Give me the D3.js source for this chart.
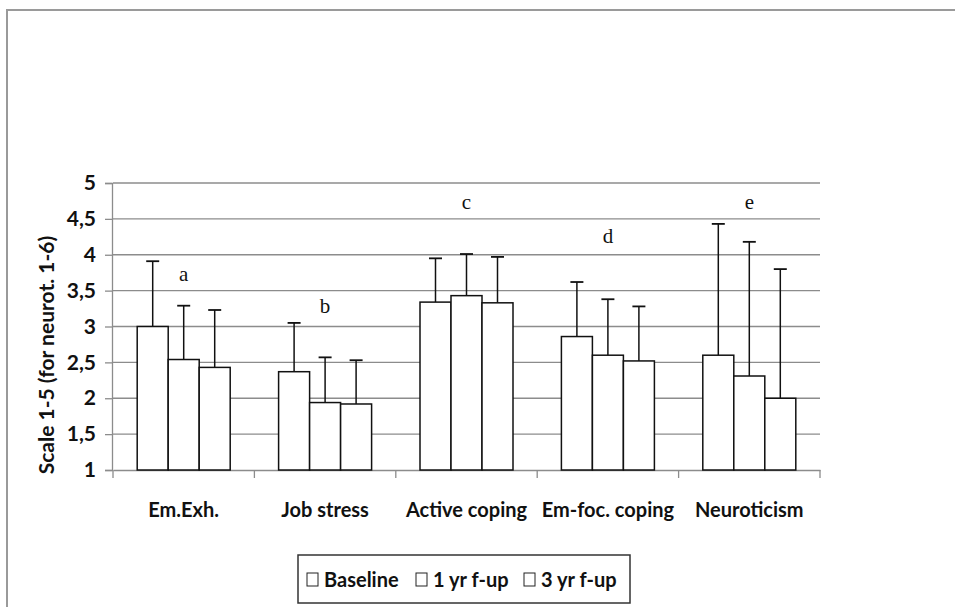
<!DOCTYPE html>
<html>
<head>
<meta charset="utf-8">
<script src="https://cdnjs.cloudflare.com/ajax/libs/d3/7.8.5/d3.min.js"></script>
<style>
  html, body { margin: 0; padding: 0; background: #fff; }
  svg { display: block; }
  .tick-label, .cat-label, .legend-text, .y-title {
    font-family: Lato, "Open Sans", sans-serif;
    font-weight: bold;
    fill: #111;
  }
  .letter { font-family: "Liberation Serif", "DejaVu Serif", serif; fill: #111; }
</style>
</head>
<body>
<svg id="chart" width="955" height="607"></svg>
<script>
// Chart data.
var categories = ['Em.Exh.', 'Job stress', 'Active coping', 'Em-foc. coping', 'Neuroticism'];
var seriesNames = ['Baseline', '1 yr f-up', '3 yr f-up'];
// mean per series, one entry per category
var baseline = [3.00, 2.37, 3.34, 2.86, 2.60];
var oneYear  = [2.54, 1.94, 3.43, 2.60, 2.31];
var threeYr  = [2.43, 1.92, 3.33, 2.52, 2.00];
// top of the error bar (mean + SD)
var baselineHi = [3.91, 3.05, 3.95, 3.62, 4.43];
var oneYearHi  = [3.29, 2.57, 4.01, 3.38, 4.18];
var threeYrHi  = [3.23, 2.53, 3.97, 3.28, 3.80];
// significance letters and the value they sit at
var letters = ['a', 'b', 'c', 'd', 'e'];
var letterAt = [3.72, 3.27, 4.72, 4.25, 4.72];
var yTicks = [1, 1.5, 2, 2.5, 3, 3.5, 4, 4.5, 5];

var means = [baseline, oneYear, threeYr];
var highs = [baselineHi, oneYearHi, threeYrHi];

var svg = d3.select('#chart');

// outer frame (only top and left edges fall inside the picture)
svg.append('path')
  .attr('d', 'M7,607 V10 H955')
  .attr('fill', 'none')
  .attr('stroke', '#9a9a9a')
  .attr('stroke-width', 2);

var x = d3.scaleBand().domain(categories).range([113, 820]);
var y = d3.scaleLinear().domain([1, 5]).range([470, 183]);
var inner = d3.scaleBand().domain(seriesNames).range([0, 93]);
var groupOffset = (x.bandwidth() - 93) / 2;

// gridlines
svg.append('g').selectAll('line')
  .data(yTicks.slice(1))
  .enter().append('line')
  .attr('x1', 113).attr('x2', 820)
  .attr('y1', function(d) { return y(d); })
  .attr('y2', function(d) { return y(d); })
  .attr('stroke', '#8c8c8c')
  .attr('stroke-width', 1.3);

// y axis
var yAxis = svg.append('g')
  .attr('transform', 'translate(112,0)')
  .call(d3.axisLeft(y).tickValues(yTicks).tickSize(7).tickPadding(9)
    .tickFormat(function(d) { return String(d).replace('.', ','); }));
yAxis.select('.domain').attr('stroke', '#8c8c8c').attr('stroke-width', 1.3);
yAxis.selectAll('.tick line').attr('stroke', '#8c8c8c').attr('stroke-width', 1.3);
yAxis.selectAll('.tick text')
  .attr('class', 'tick-label')
  .style('font-size', '21px');

// x axis
var xAxis = svg.append('g')
  .attr('transform', 'translate(0,470)')
  .call(d3.axisBottom(x).tickSize(0).tickPadding(35));
xAxis.select('.domain').attr('stroke', '#8c8c8c').attr('stroke-width', 1.3);
xAxis.selectAll('.tick text')
  .attr('class', 'cat-label')
  .attr('dy', '0.6em')
  .style('font-size', '20px');
// category boundary ticks
svg.append('g').selectAll('line')
  .data(categories.concat(['end']))
  .enter().append('line')
  .attr('x1', function(d, i) { return i < categories.length ? x(d) : x.range()[1]; })
  .attr('x2', function(d, i) { return i < categories.length ? x(d) : x.range()[1]; })
  .attr('y1', 470).attr('y2', 478)
  .attr('stroke', '#8c8c8c').attr('stroke-width', 1.3);

// bars and error bars
seriesNames.forEach(function(s, si) {
  var g = svg.append('g');
  categories.forEach(function(c, ci) {
    var bx = x(c) + groupOffset + inner(s);
    var cx = bx + inner.bandwidth() / 2;
    g.append('line')
      .attr('x1', cx).attr('x2', cx)
      .attr('y1', y(means[si][ci])).attr('y2', y(highs[si][ci]))
      .attr('stroke', '#111').attr('stroke-width', 1.5);
    g.append('line')
      .attr('x1', cx - 6.5).attr('x2', cx + 6.5)
      .attr('y1', y(highs[si][ci])).attr('y2', y(highs[si][ci]))
      .attr('stroke', '#111').attr('stroke-width', 1.8);
    g.append('rect')
      .attr('x', bx).attr('width', inner.bandwidth())
      .attr('y', y(means[si][ci]))
      .attr('height', y(1) - y(means[si][ci]))
      .attr('fill', '#fff')
      .attr('stroke', '#111').attr('stroke-width', 1.5);
  });
});

// significance letters
svg.append('g').selectAll('text')
  .data(letters)
  .enter().append('text')
  .attr('class', 'letter')
  .attr('x', function(d, i) { return x(categories[i]) + x.bandwidth() / 2; })
  .attr('y', function(d, i) { return y(letterAt[i]); })
  .attr('dy', '0.3em')
  .attr('text-anchor', 'middle')
  .style('font-size', '21px')
  .text(function(d) { return d; });

// y axis title
svg.append('text')
  .attr('class', 'y-title')
  .attr('transform', 'translate(47,355) rotate(-90)')
  .attr('dy', '0.35em')
  .attr('text-anchor', 'middle')
  .style('font-size', '21px')
  .text('Scale 1-5 (for neurot. 1-6)');

// legend
var legend = svg.append('g');
legend.append('rect')
  .attr('x', 298).attr('y', 555).attr('width', 332).attr('height', 48)
  .attr('fill', '#fff').attr('stroke', '#333').attr('stroke-width', 1.5);
var legendX = [307, 416, 524];
seriesNames.forEach(function(s, i) {
  legend.append('rect')
    .attr('x', legendX[i]).attr('y', 573).attr('width', 11).attr('height', 13)
    .attr('fill', '#fff').attr('stroke', '#222').attr('stroke-width', 1);
  legend.append('text')
    .attr('class', 'legend-text')
    .attr('x', legendX[i] + 17).attr('y', 580)
    .attr('dy', '0.35em')
    .style('font-size', '20px')
    .text(s);
});
</script>
</body>
</html>
